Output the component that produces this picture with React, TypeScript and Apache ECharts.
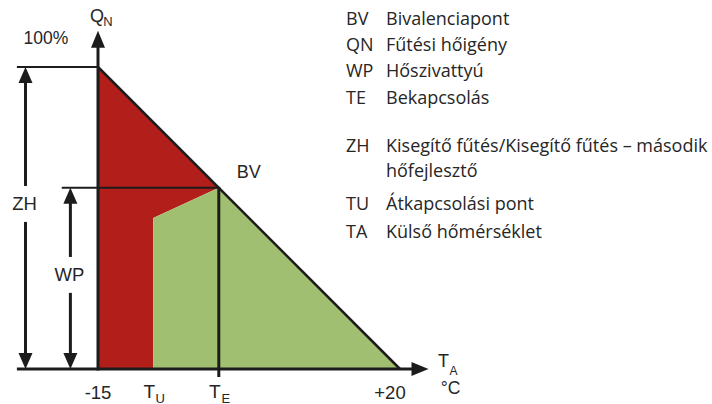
import React, { useEffect, useRef } from "react";
import * as echarts from "echarts";

// ---- data ----
const tempTicks = [-15, -8.6, -1, 20];
const tickMain = ["-15", "T", "T", "+20"];
const tickSub = ["", "U", "E", ""];
const demandLine = [[-15, 100], [20, 0]];
const auxHeatingArea = [[-15, 0], [-15, 100], [-1, 60], [-8.6, 50], [-8.6, 0]];
const heatPumpArea = [[-8.6, 0], [-8.6, 50], [-1, 60], [20, 0]];
const bivalencePoint = [-1, 60];
const fullDemand = 100;
const legendCodes = ["BV", "QN", "WP", "TE", "ZH", "", "TU", "TA"];
const legendTexts = [
  "Bivalenciapont",
  "Fűtési hőigény",
  "Hőszivattyú",
  "Bekapcsolás",
  "Kisegítő fűtés/Kisegítő fűtés – második",
  "hőfejlesztő",
  "Átkapcsolási pont",
  "Külső hőmérséklet",
];

// axis extents (in data units)
const xAxisStart = -24.4;
const xAxisEnd = 23.3;
const yAxisEnd = 112;
const zhX = -23.4;
const wpX = -18.2;
const bvRefStart = -19.2;

const INK = "#1c1c1c";
const TXT = "#262626";
const DFONT = "Liberation Sans, Arial, sans-serif";
const LFONT = "'Open Sans', sans-serif";

function polySeries(points: number[][], color: string, z: number) {
  return {
    type: "custom",
    coordinateSystem: "cartesian2d",
    silent: true,
    z,
    data: [0],
    renderItem: (_p: any, api: any) => ({
      type: "polygon",
      shape: { points: points.map((p) => api.coord(p)) },
      style: { fill: color },
    }),
  };
}

function line(a: number[], b: number[], w: number) {
  return {
    type: "line",
    shape: { x1: a[0], y1: a[1], x2: b[0], y2: b[1] },
    style: { stroke: INK, lineWidth: w, lineCap: "butt" },
  };
}

function head(tip: number[], dir: "up" | "down" | "right", len: number, half: number) {
  const [x, y] = tip;
  let pts: number[][];
  if (dir === "up") pts = [[x, y], [x - half, y + len], [x + half, y + len]];
  else if (dir === "down") pts = [[x, y], [x - half, y - len], [x + half, y - len]];
  else pts = [[x, y], [x - len, y - half], [x - len, y + half]];
  return { type: "polygon", shape: { points: pts }, style: { fill: INK } };
}

function txt(x: number, y: number, text: string, size: number, align = "center") {
  return {
    type: "text",
    x,
    y,
    style: {
      text,
      fill: TXT,
      font: `${size}px ${DFONT}`,
      align,
      verticalAlign: "middle",
    },
  };
}

function dimArrow(api: any, xv: number, top: number, gapTop: number, gapBot: number, label: string) {
  const t = api.coord([xv, top]);
  const b = api.coord([xv, 0]);
  const c = api.coord([xv, (gapTop + gapBot) / 2]);
  const g1 = api.coord([xv, gapTop]);
  const g2 = api.coord([xv, gapBot]);
  return [
    line([t[0], t[1] + 14], g1, 3),
    line(g2, [b[0], b[1] - 14], 3),
    head(t, "up", 16, 7),
    head(b, "down", 16, 7),
    txt(c[0] - 1, c[1], label, 18.5),
  ];
}

export default function App() {
  const ref = useRef<HTMLDivElement>(null);
  useEffect(() => {
    document.body.style.margin = "0";
    const chart = echarts.init(ref.current!, null, { renderer: "svg" });
    const option = {
      animation: false,
      backgroundColor: "#ffffff",
      grid: { left: 98, top: 67, width: 302, height: 302 },
      xAxis: { type: "value", min: -15, max: 20, show: false },
      yAxis: { type: "value", min: 0, max: 100, show: false },
      series: [
        polySeries(auxHeatingArea, "#b21f1a", 1),
        polySeries(heatPumpArea, "#a1bf71", 2),
        {
          type: "custom",
          coordinateSystem: "cartesian2d",
          silent: true,
          z: 5,
          data: [0],
          renderItem: (_p: any, api: any) => {
            const children: any[] = [];
            // demand line
            children.push(line(api.coord(demandLine[0]), api.coord(demandLine[1]), 2.5));
            // x axis
            const xl = api.coord([xAxisStart, 0]);
            const xr = api.coord([xAxisEnd, 0]);
            children.push(line(xl, [xr[0] - 15, xr[1]], 3));
            children.push(head(xr, "right", 17, 7));
            // y axis
            const y0 = api.coord([-15, 0]);
            const yt = api.coord([-15, yAxisEnd]);
            children.push(line([y0[0], y0[1] + 1.5], [yt[0], yt[1] + 15], 3));
            children.push(head(yt, "up", 17, 7));
            // 100% reference
            children.push(line(api.coord([xAxisStart, fullDemand]), api.coord([-15, fullDemand]), 2));
            // BV reference
            const bv = api.coord(bivalencePoint);
            children.push(line(api.coord([bvRefStart, bivalencePoint[1]]), bv, 2));
            // TE vertical
            const te0 = api.coord([bivalencePoint[0], 0]);
            children.push(line([bv[0], bv[1] - 1], [te0[0], te0[1] + 8], 3));
            // dimension arrows
            children.push(...dimArrow(api, zhX, fullDemand, 60.6, 48.7, "ZH"));
            children.push(...dimArrow(api, wpX, bivalencePoint[1], 37.1, 25.2, "WP"));
            // labels
            children.push(txt(bv[0] + 30, bv[1] - 16, "BV", 18));
            const p100 = api.coord([xAxisStart, fullDemand]);
            children.push(txt(p100[0] + 29, p100[1] - 29, "100%", 17.5));
            children.push(txt(yt[0] - 1, yt[1] - 15, "Q", 18));
            children.push(txt(yt[0] + 10, yt[1] - 9, "N", 13));
            tempTicks.forEach((v, i) => {
              const p = api.coord([v, 0]);
              if (tickSub[i]) {
                children.push(txt(p[0] - 4, p[1] + 22, tickMain[i], 19));
                children.push(txt(p[0] + 7, p[1] + 29, tickSub[i], 13));
              } else {
                children.push(txt(p[0] - 10 * (i === tempTicks.length - 1 ? 1 : 0), p[1] + 23, tickMain[i], 18.5));
              }
            });
            children.push(txt(xr[0] + 15, xr[1] - 8, "T", 18));
            children.push(txt(xr[0] + 25, xr[1] + 2, "A", 12));
            children.push(txt(xr[0] + 22, xr[1] + 19, "°C", 17.5));
            return { type: "group", children };
          },
        },
      ],
      graphic: (() => {
        const rows = [19, 45, 71, 98, 146, 171, 204, 232];
        const els: any[] = [];
        legendTexts.forEach((t, i) => {
          if (legendCodes[i]) {
            els.push({
              type: "text",
              left: 346,
              top: rows[i] - 10.5,
              style: { text: legendCodes[i], fill: TXT, font: `18px ${LFONT}` },
            });
          }
          els.push({
            type: "text",
            left: 386,
            top: rows[i] - 10.5,
            style: { text: t, fill: TXT, font: `18px ${LFONT}` },
          });
        });
        return els;
      })(),
    };
    chart.setOption(option as any);
    return () => chart.dispose();
  }, []);
  return <div ref={ref} style={{ width: 712, height: 404 }} />;
}
